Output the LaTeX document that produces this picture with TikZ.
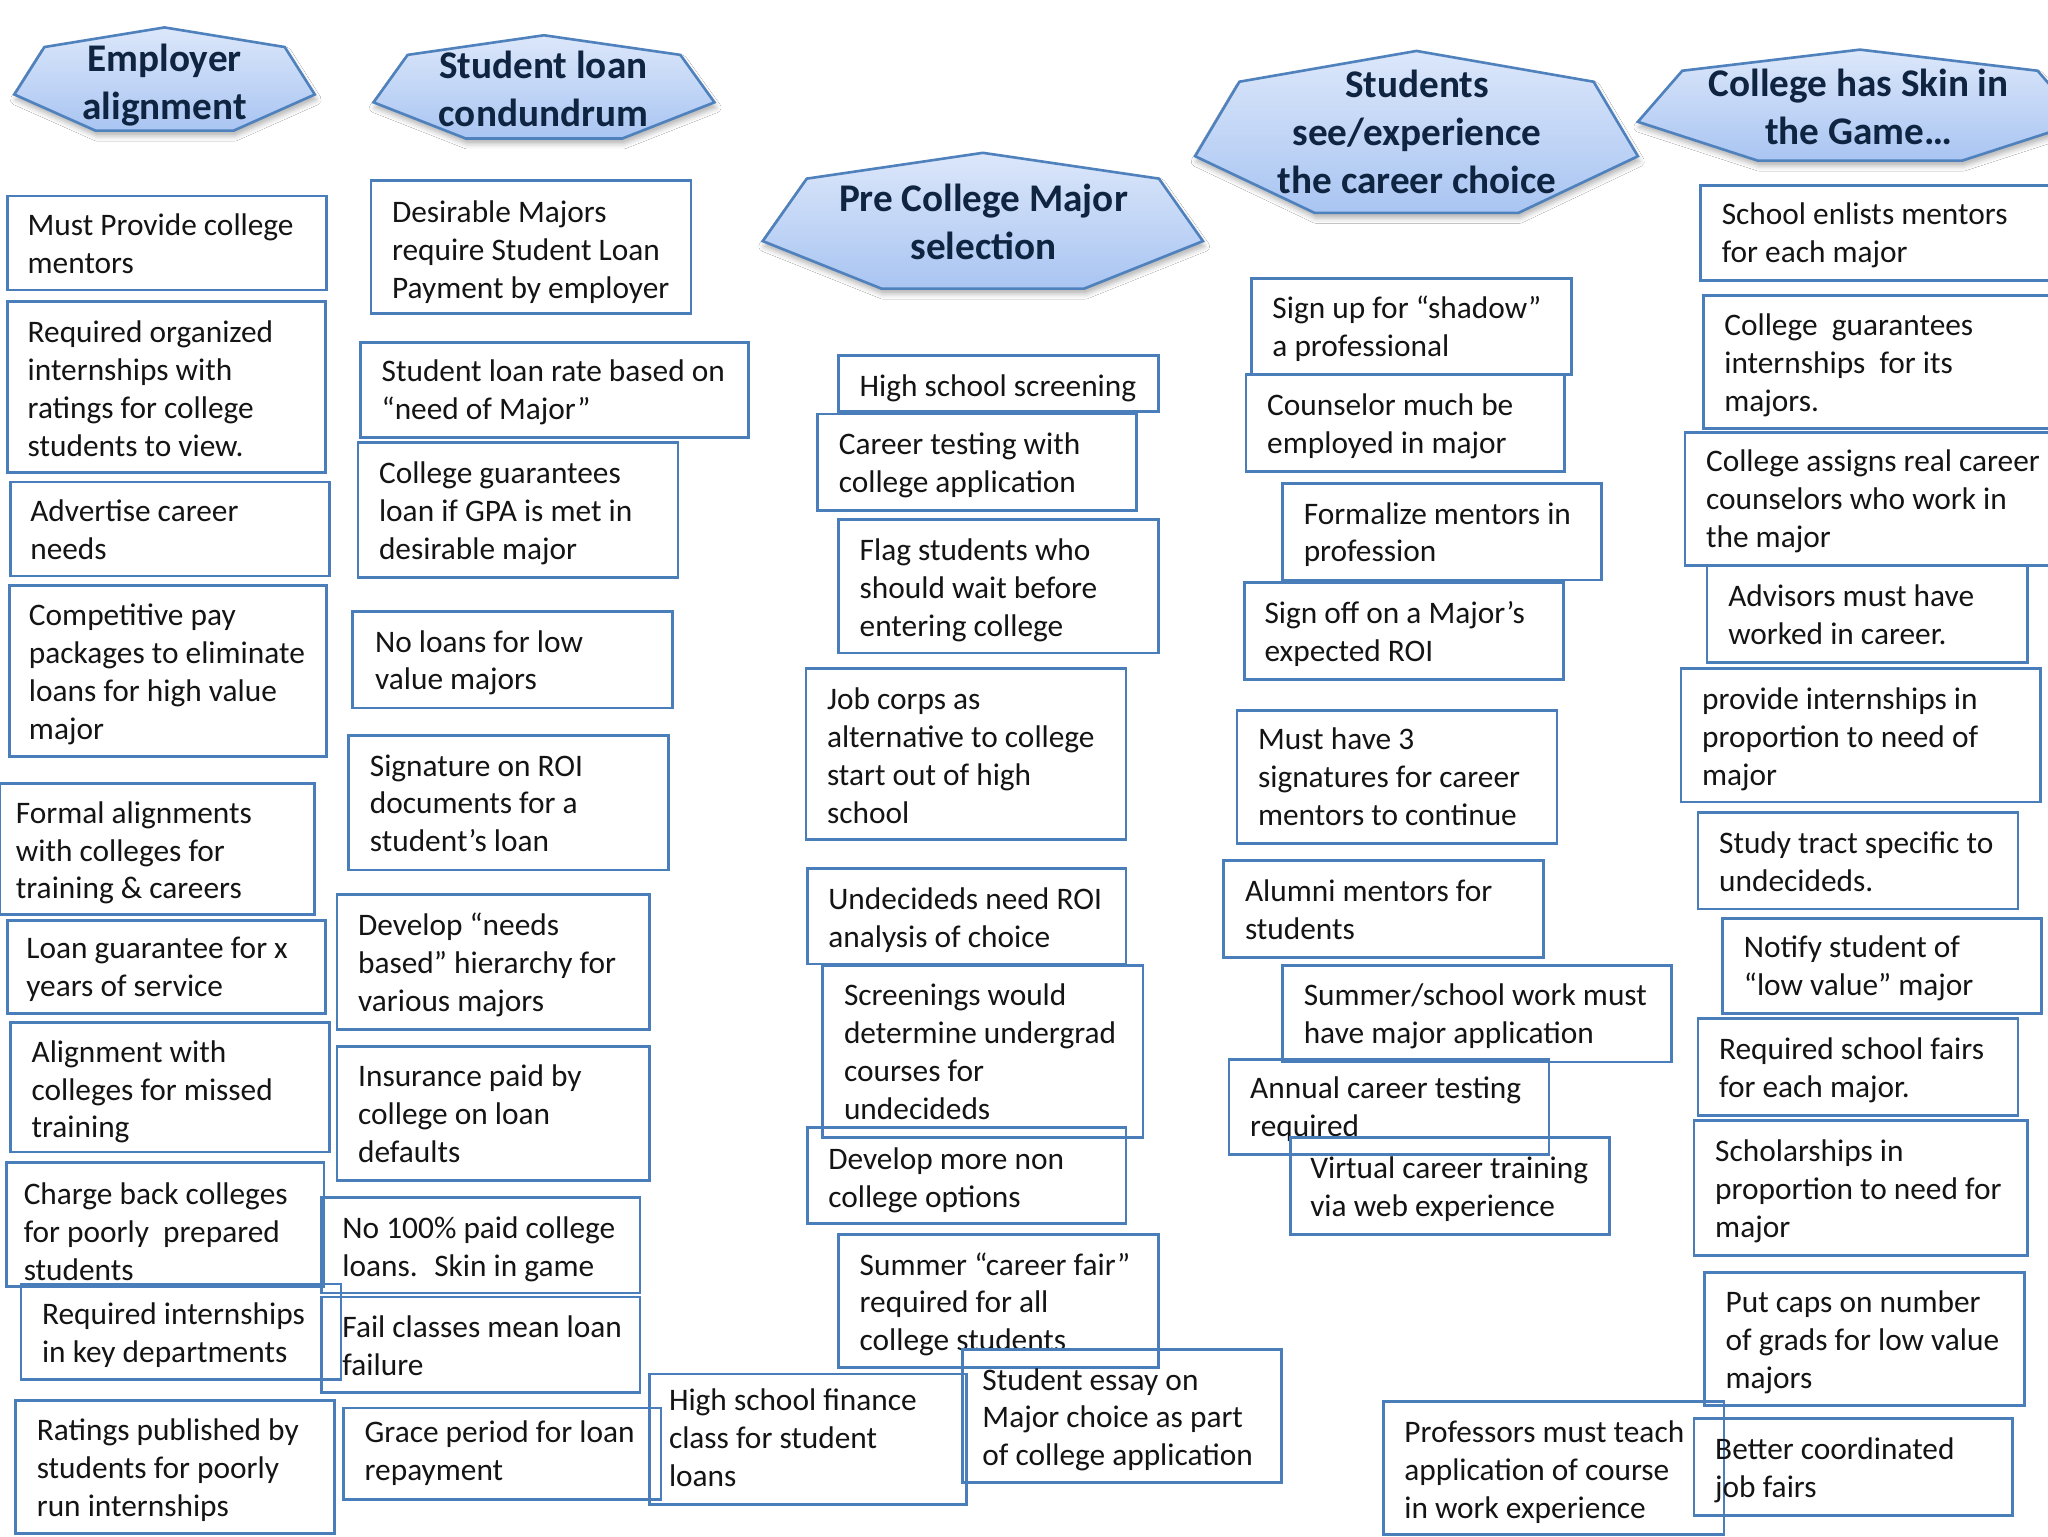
\documentclass[tikz,border=0pt]{standalone}
\usepackage{fontspec}
\setmainfont{Carlito}
\usetikzlibrary{shadows.blur}
\definecolor{boxblue}{HTML}{4A7EBB}
\definecolor{hexline}{HTML}{4F81BD}
\definecolor{hextop}{HTML}{DCE7FA}
\definecolor{hexbot}{HTML}{A9C5F2}
\definecolor{headtxt}{HTML}{0F2440}
\tikzset{
 boxline/.style={draw=boxblue, line width=2.1pt},
 itemtext/.style={anchor=north west, inner sep=0pt, align=left, font=\fontsize{24}{29}\selectfont, text=black!92},
 hexshape/.style={draw=hexline, line width=2pt, top color=hextop, bottom color=hexbot,
   blur shadow={shadow xshift=1pt, shadow yshift=-4pt, shadow blur radius=4pt, shadow opacity=30}},
 headtext/.style={align=center, inner sep=0pt, font=\bfseries\fontsize{30}{36.5}\selectfont, text=headtxt},
}
\newcommand\bx[8]{%
  \draw[boxline] (#2,#3) rectangle (#4,#5);
  \node[itemtext] (#1) at (#6,#7-12.3) {\strut #8};
}
\newcommand\hexhead[5]{%
 \pgfmathsetmacro\hW{#4-#2}\pgfmathsetmacro\hH{#5-#3}%
 \path[hexshape] (#2+0.10*\hW,#3+0.19*\hH) -- (#2+0.5*\hW,#3) -- (#2+0.90*\hW,#3+0.19*\hH)
   -- (#4,#3+0.65*\hH) -- (#2+0.73*\hW,#5) -- (#2+0.27*\hW,#5) -- (#2,#3+0.65*\hH) -- cycle;}
\begin{document}
\begin{tikzpicture}[x=1pt,y=-1pt]
\useasboundingbox[fill=white] (0,0) rectangle (1568,1176);
% headers
\hexhead{h1}{11}{21}{241}{100}
\node[headtext] (h1) at (126,65) {Employer\\alignment};
\hexhead{h2}{286}{27}{547}{106}
\node[headtext] (h2) at (416,68) {Student loan\\condundrum};
\hexhead{h3}{584}{117}{921}{221}
\node[headtext] (h3) at (753,170) {Pre College Major\\selection};
\hexhead{h4}{915}{39}{1254}{163}
\node[headtext] (h4) at (1085,101) {Students\\see/experience\\the career choice};
\hexhead{h5}{1254}{38}{1594}{123}
\node[headtext] (h5) at (1423,82) {College has Skin in\\the Game…};
% column 1
\bx{a1}{6}{150}{250}{222}{21}{172}{Must Provide college\\mentors}
\bx{a2}{6}{231}{249}{362}{21}{254}{Required organized\\internships with\\ratings for college\\students to view.}
\bx{a3}{8}{369}{252}{441}{23}{391}{Advertise career\\needs}
\bx{a4}{7}{448}{250}{579}{22}{471}{Competitive pay\\packages to eliminate\\loans for high value\\major}
\bx{a5}{0}{600}{241}{700}{12}{622}{Formal alignments\\with colleges for\\training \& careers}
\bx{a6}{6}{705}{249}{776}{20}{726}{Loan guarantee for x\\years of service}
\bx{a7}{8}{783}{252}{882}{24}{805}{Alignment with\\colleges for missed\\training}
\bx{a8}{5}{890}{248}{985}{18}{914}{Charge back colleges\\for poorly~ prepared\\students}
\bx{a9}{16}{983}{261}{1056}{32}{1006}{Required internships\\in key departments}
\bx{a10}{12}{1072}{256}{1174}{28}{1095}{Ratings published by\\students for poorly\\run internships}
% column 2
\bx{b1}{284}{138}{529}{240}{300}{162}{Desirable Majors\\require Student Loan\\Payment by employer}
\bx{b2}{276}{262}{573}{335}{292}{284}{Student loan rate based on\\“need of Major”}
\bx{b3}{274}{339}{519}{442}{290}{362}{College guarantees\\loan if GPA is met in\\desirable major}
\bx{b4}{270}{468}{515}{542}{287}{491}{No loans for low\\value majors}
\bx{b5}{267}{563}{512}{666}{283}{586}{Signature on ROI\\documents for a\\student’s loan}
\bx{b6}{258}{685}{497}{788}{274}{708}{Develop “needs\\based” hierarchy for\\various majors}
\bx{b7}{258}{801}{497}{904}{274}{824}{Insurance paid by\\college on loan\\defaults}
\bx{b8}{246}{917}{490}{990}{262}{940}{No 100\% paid college\\loans.~ Skin in game}
\bx{b9}{246}{993}{490}{1066}{262}{1016}{Fail classes mean loan\\failure}
\bx{b10}{263}{1078}{506}{1148}{279}{1096}{Grace period for loan\\repayment}
% column 3
\bx{c1}{642}{272}{887}{315}{658}{295}{High school screening}
\bx{c2}{626}{317}{870}{391}{642}{340}{Career testing with\\college application}
\bx{c3}{642}{398}{887}{500}{658}{421}{Flag students who\\should wait before\\entering college}
\bx{c4}{617}{512}{862}{643}{633}{535}{Job corps as\\alternative to college\\start out of high\\school}
\bx{c5}{618}{665}{862}{738}{634}{688}{Undecideds need ROI\\analysis of choice}
\bx{c6}{630}{739}{875}{871}{646}{762}{Screenings would\\determine undergrad\\courses for\\undecideds}
\bx{c7}{618}{863}{862}{937}{634}{887}{Develop more non\\college options}
\bx{c8}{642}{945}{887}{1047}{658}{968}{Summer “career fair”\\required for all\\college students}
\bx{c9}{737}{1033}{981}{1135}{752}{1056}{Student essay on\\Major choice as part\\of college application}
\bx{c10}{497}{1052}{740}{1152}{512}{1072}{High school finance\\class for student\\loans}
% column 4
\bx{d1}{958}{213}{1203}{287}{974}{236}{Sign up for “shadow”\\a professional}
\bx{d2}{954}{287}{1198}{361}{970}{310}{Counselor much be\\employed in major}
\bx{d3}{982}{370}{1226}{444}{998}{393}{Formalize mentors in\\profession}
\bx{d4}{953}{446}{1197}{520}{968}{469}{Sign off on a Major’s\\expected ROI}
\bx{d5}{947}{544}{1192}{646}{963}{566}{Must have 3\\signatures for career\\mentors to continue}
\bx{d6}{937}{659}{1182}{733}{953}{682}{Alumni mentors for\\students}
\bx{d7}{982}{739}{1280}{813}{998}{762}{Summer/school work must\\have major application}
\bx{d8}{941}{811}{1186}{884}{957}{833}{Annual career testing\\required}
\bx{d9}{988}{871}{1232}{945}{1003}{894}{Virtual career training\\via web experience}
\bx{d10}{1059}{1073}{1320}{1175}{1075}{1096}{Professors must teach\\application of course\\in work experience}
% column 5
\bx{e1}{1302}{142}{1570}{215}{1318}{164}{School enlists mentors\\for each major}
\bx{e2}{1304}{226}{1570}{328}{1320}{249}{College~ guarantees\\internships~ for its\\majors.}
\bx{e3}{1290}{331}{1570}{433}{1306}{353}{College assigns real career\\counselors who work in\\the major}
\bx{e4}{1307}{433}{1552}{507}{1323}{456}{Advisors must have\\worked in career.}
\bx{e5}{1287}{512}{1562}{614}{1303}{535}{provide internships in\\proportion to need of\\major}
\bx{e6}{1300}{622}{1545}{696}{1316}{645}{Study tract specific to\\undecideds.}
\bx{e7}{1319}{703}{1563}{776}{1335}{725}{Notify student of\\“low value” major}
\bx{e8}{1300}{780}{1545}{854}{1316}{803}{Required school fairs\\for each major.}
\bx{e9}{1297}{858}{1552}{961}{1313}{881}{Scholarships in\\proportion to need for\\major}
\bx{e10}{1305}{974}{1550}{1076}{1321}{997}{Put caps on number\\of grads for low value\\majors}
\bx{e11}{1297}{1086}{1541}{1160}{1313}{1109}{Better coordinated\\job fairs}
\end{tikzpicture}
\end{document}
